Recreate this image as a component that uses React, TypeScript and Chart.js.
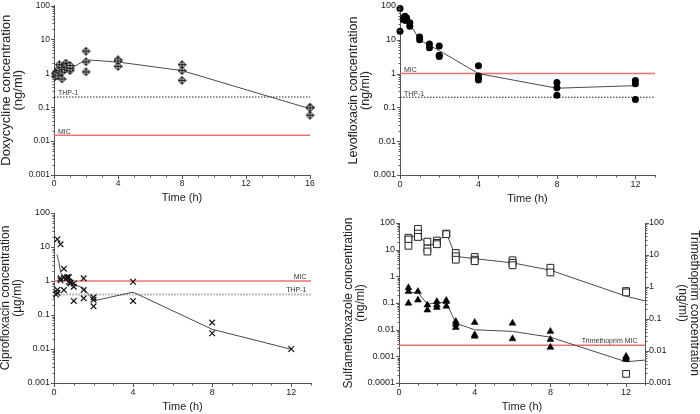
import React, { useEffect, useRef } from 'react';
import { Chart, registerables } from 'chart.js';

Chart.register(...registerables);

const FONT = "'Liberation Sans', Arial, Helvetica, sans-serif";

// ---------- axis ticks ----------
const decadeValues5 = [0.001, 0.01, 0.1, 1, 10, 100];
const decadeLabels5 = ['0.001', '0.01', '0.1', '1', '10', '100'];
const decadeValues6 = [0.0001, 0.001, 0.01, 0.1, 1, 10, 100];
const decadeLabels6 = ['0.0001', '0.001', '0.01', '0.1', '1', '10', '100'];
const timeTicks16 = [0, 4, 8, 12, 16];
const timeTicks13 = [0, 4, 8, 12];

// ---------- Doxycycline ----------
const doxyTime = [0.08, 0.08, 0.17, 0.17, 0.25, 0.25, 0.25, 0.33, 0.33, 0.5, 0.5, 0.5, 0.67, 0.67, 0.75, 0.75, 0.83, 1, 1, 1, 2, 2, 2, 4, 4, 4, 8, 8, 8, 16, 16, 16];
const doxyConc = [0.8, 1.0, 0.9, 1.1, 1.2, 1.3, 0.85, 1.2, 1.8, 1.1, 0.68, 1.5, 1.3, 1.8, 2.0, 1.6, 1.5, 1.2, 1.4, 1.7, 4.5, 2.2, 1.1, 2.5, 2.3, 1.6, 1.8, 1.2, 0.62, 0.1, 0.095, 0.058];
const doxyFitTime = [0, 0.5, 1, 2, 4, 8, 16];
const doxyFitConc = [0.85, 1.05, 1.35, 2.5, 2.15, 1.2, 0.09];
const doxyMIC = 0.015;
const doxyTHP1 = 0.2;

// ---------- Levofloxacin ----------
const levoTime = [0, 0, 0.17, 0.17, 0.25, 0.25, 0.33, 0.33, 0.5, 0.5, 1, 1, 1.5, 1.5, 2, 2, 2, 4, 4, 4, 4, 8, 8, 8, 12, 12, 12];
const levoConc = [85, 18, 45, 40, 50, 38, 45, 38, 32, 25, 12, 10, 7.5, 5.8, 6.5, 3.5, 3.2, 1.7, 0.85, 0.75, 0.65, 0.55, 0.38, 0.23, 0.62, 0.5, 0.17];
const levoFitTime = [0.1, 0.25, 0.5, 1, 1.5, 2, 4, 8, 12];
const levoFitConc = [55, 42, 30, 10, 6.8, 4.8, 1.0, 0.37, 0.44];
const levoMIC = 1;
const levoTHP1 = 0.2;

// ---------- Ciprofloxacin ----------
const ciproTime = [0.17, 0.33, 0.17, 0.17, 0.1, 0.33, 0.33, 0.5, 0.5, 0.5, 0.67, 0.67, 0.75, 0.75, 0.83, 0.83, 1, 1, 1, 1.5, 1.5, 1.5, 2, 2, 2, 4, 4, 8, 8, 12];
const ciproConc = [17, 12, 0.55, 0.45, 0.4, 1.2, 1.05, 2.3, 1.25, 0.54, 1.3, 1.2, 1.3, 0.95, 0.9, 0.85, 0.85, 0.68, 0.26, 1.2, 0.54, 0.31, 0.33, 0.28, 0.18, 0.95, 0.26, 0.06, 0.029, 0.01];
const ciproFitTime = [0.15, 0.25, 0.33, 0.5, 0.75, 1, 1.5, 2, 4, 8, 12];
const ciproFitConc = [6, 3.5, 1.8, 1.3, 1.0, 0.8, 0.62, 0.26, 0.47, 0.038, 0.0098];
const ciproMIC = 1;
const ciproTHP1 = 0.4;

// ---------- Sulfamethoxazole (left axis) ----------
const smxTime = [0.5, 0.5, 0.5, 1, 1, 1, 1.5, 1.5, 1.5, 2, 2, 2, 2.5, 2.5, 3, 3, 3, 4, 4, 4, 6, 6, 6, 8, 8, 12, 12, 12];
const smxConc = [28, 24, 14, 60, 40, 30, 20, 11, 8.5, 22, 18, 16, 40, 38, 7.5, 5.6, 4.2, 5.3, 4.2, 3.7, 4, 3.2, 2.6, 2.1, 1.4, 0.28, 0.25, 0.00022];
const smxFitTime = [0.5, 1, 1.5, 2, 2.5, 3, 4, 6, 8, 12, 13];
const smxFitConc = [26, 40, 14.5, 17, 42, 5.6, 4.6, 3.2, 1.7, 0.18, 0.12];

// ---------- Trimethoprim (right axis) ----------
const tmpTime = [0.5, 0.5, 0.5, 1, 1, 1.5, 1.5, 2, 2, 2, 2.5, 2.5, 2.5, 3, 3, 3, 4, 4, 4, 6, 6, 8, 8, 8, 12, 12, 12];
const tmpConc = [0.95, 0.72, 0.31, 0.72, 0.39, 0.275, 0.19, 0.35, 0.275, 0.23, 0.38, 0.35, 0.25, 0.084, 0.069, 0.054, 0.078, 0.032, 0.029, 0.074, 0.024, 0.041, 0.023, 0.013, 0.0068, 0.006, 0.0054];
const tmpFitTime = [0.5, 1, 1.5, 2, 2.5, 3, 4, 6, 8, 12, 13];
const tmpFitConc = [0.67, 0.67, 0.29, 0.32, 0.33, 0.074, 0.046, 0.041, 0.027, 0.0046, 0.0052];
const tmpMIC = 0.015;

// ---------- helpers ----------
const zip = (xs: number[], ys: number[]) => xs.map((x, i) => ({ x, y: ys[i] }));
const hline = (v: number, xMax: number) => [{ x: 0, y: v }, { x: xMax, y: v }];

const RED = '#ef7272';
const FIT = '#4a4a4a';

function makeDiamond(): HTMLCanvasElement {
  const c = document.createElement('canvas');
  c.width = 9;
  c.height = 9;
  const g = c.getContext('2d')!;
  g.beginPath();
  g.moveTo(4.5, 0.5);
  g.lineTo(8.5, 4.5);
  g.lineTo(4.5, 8.5);
  g.lineTo(0.5, 4.5);
  g.closePath();
  g.fillStyle = '#bcbcbc';
  g.fill();
  g.strokeStyle = '#1a1a1a';
  g.lineWidth = 1;
  g.stroke();
  g.beginPath();
  g.moveTo(4.5, 1);
  g.lineTo(4.5, 8);
  g.moveTo(1, 4.5);
  g.lineTo(8, 4.5);
  g.stroke();
  return c;
}

type RefLabel = { text: string; value: number; axis: string; align: 'left' | 'right'; dx: number; dy: number; size: number; bold?: boolean };

type PanelSpec = {
  left: number; top: number; w: number; h: number;
  padTop: number; padRight: number; yWidth: number; xHeight: number; y2Width?: number;
  xMax: number; xTicks: number[]; xTitlePad: number;
  yMin: number; yMax: number; yVals: number[]; yLabels: string[];
  yTitle: string[]; yTitleSize: number; yTitleLH: number; tickSize: number;
  y2?: { min: number; max: number; vals: number[]; labels: string[]; title: string[] };
  datasets: () => any[];
  labels: RefLabel[];
};

function axisTicksPlugin(xMax: number) {
  return {
    id: 'axisTicks',
    afterDraw(chart: any) {
      const ctx = chart.ctx;
      ctx.save();
      ctx.strokeStyle = '#555';
      ctx.lineWidth = 1;
      ctx.beginPath();
      for (const id of Object.keys(chart.scales)) {
        const s = chart.scales[id];
        const marks: [number, boolean][] = [];
        if (s.type === 'logarithmic') {
          const e0 = Math.round(Math.log10(s.min));
          const e1 = Math.round(Math.log10(s.max));
          for (let e = e0; e < e1; e++) {
            for (let k = 1; k <= 9; k++) marks.push([k * Math.pow(10, e), k === 1]);
          }
          marks.push([Math.pow(10, e1), true]);
        } else {
          for (let v = 0; v <= xMax; v += 1) marks.push([v, v % 4 === 0]);
        }
        for (const [v, major] of marks) {
          const len = major ? 3.5 : 2;
          const p = Math.round(s.getPixelForValue(v)) + 0.5;
          if (s.isHorizontal()) {
            const y0 = Math.round(s.top) + 0.5;
            ctx.moveTo(p, y0);
            ctx.lineTo(p, y0 + len);
          } else if (s.position === 'left') {
            const x0 = Math.round(s.right) + 0.5;
            ctx.moveTo(x0, p);
            ctx.lineTo(x0 - len, p);
          } else {
            const x0 = Math.round(s.left) + 0.5;
            ctx.moveTo(x0, p);
            ctx.lineTo(x0 + len, p);
          }
        }
      }
      ctx.stroke();
      ctx.restore();
    },
  };
}

function refLabelPlugin(items: RefLabel[]) {
  return {
    id: 'refLabels',
    afterDatasetsDraw(chart: any) {
      const ctx = chart.ctx;
      const ca = chart.chartArea;
      ctx.save();
      for (const it of items) {
        const y = chart.scales[it.axis].getPixelForValue(it.value);
        ctx.font = `${it.bold ? 'bold ' : ''}${it.size}px ${FONT}`;
        ctx.fillStyle = '#333';
        ctx.textBaseline = 'alphabetic';
        ctx.textAlign = it.align;
        const x = it.align === 'left' ? ca.left + it.dx : ca.right - it.dx;
        ctx.fillText(it.text, x, y - it.dy);
      }
      ctx.restore();
    },
  };
}

function yScale(pos: 'left' | 'right', min: number, max: number, vals: number[], labels: string[], title: string[], p: PanelSpec, width: number) {
  return {
    type: 'logarithmic',
    position: pos,
    min,
    max,
    afterBuildTicks: (s: any) => { s.ticks = vals.map((v) => ({ value: v, major: true })); },
    ticks: {
      font: { size: p.tickSize, family: FONT },
      color: '#222',
      padding: 0,
      autoSkip: false,
      callback: (_v: any, i: number) => labels[i],
    },
    grid: { display: false, drawTicks: true, tickLength: 4 },
    border: { display: true, color: '#555', width: 1 },
    title: {
      display: true,
      text: title,
      color: '#222',
      font: { size: p.yTitleSize, family: FONT, lineHeight: p.yTitleLH },
      padding: { top: 0, bottom: 0 },
    },
    afterFit: (s: any) => { s.width = width; },
  };
}

function buildConfig(p: PanelSpec): any {
  const scales: any = {
    x: {
      type: 'linear',
      position: 'bottom',
      min: 0,
      max: p.xMax,
      afterBuildTicks: (s: any) => { s.ticks = p.xTicks.map((v) => ({ value: v })); },
      ticks: {
        font: { size: p.tickSize, family: FONT },
        color: '#222',
        padding: 0,
        autoSkip: false,
        maxRotation: 0,
        callback: (v: any) => String(v),
      },
      grid: { display: false, drawTicks: true, tickLength: 4 },
      border: { display: true, color: '#555', width: 1 },
      title: {
        display: true,
        text: 'Time (h)',
        color: '#222',
        font: { size: 11, family: FONT, lineHeight: 1.2 },
        padding: { top: 0, bottom: p.xTitlePad },
      },
      afterFit: (s: any) => { s.height = p.xHeight; },
    },
    y: yScale('left', p.yMin, p.yMax, p.yVals, p.yLabels, p.yTitle, p, p.yWidth),
  };
  if (p.y2) {
    scales.y2 = yScale('right', p.y2.min, p.y2.max, p.y2.vals, p.y2.labels, p.y2.title, p, p.y2Width || 55);
  }
  return {
    type: 'scatter',
    data: { datasets: p.datasets() },
    options: {
      responsive: false,
      animation: false,
      devicePixelRatio: 1,
      layout: { padding: { top: p.padTop, right: p.padRight, left: 0, bottom: 0 } },
      plugins: { legend: { display: false }, tooltip: { enabled: false } },
      scales,
    },
    plugins: [axisTicksPlugin(p.xMax), refLabelPlugin(p.labels)],
  };
}

const fitLine = (data: any[], yAxisID = 'y') => ({
  data, yAxisID, showLine: true, borderColor: FIT, borderWidth: 1, pointRadius: 0, clip: false, tension: 0,
});
const refLine = (data: any[], color: string, width: number, dash: number[], yAxisID = 'y') => ({
  data, yAxisID, showLine: true, borderColor: color, borderWidth: width, borderDash: dash, pointRadius: 0, clip: false,
});

const panels: PanelSpec[] = [
  {
    left: 0, top: 0, w: 350, h: 207,
    padTop: 5, padRight: 40, yWidth: 54, xHeight: 32,
    xMax: 16, xTicks: timeTicks16, xTitlePad: 2,
    yMin: 0.001, yMax: 100, yVals: decadeValues5, yLabels: decadeLabels5,
    yTitle: ['Doxycycline concentration', '(ng/ml)'], yTitleSize: 13, yTitleLH: 0.95, tickSize: 8.5,
    datasets: () => [
      { data: zip(doxyTime, doxyConc), pointStyle: makeDiamond(), pointRadius: 4.5, showLine: false, clip: false },
      fitLine(zip(doxyFitTime, doxyFitConc)),
      refLine(hline(doxyTHP1, 16), '#222', 1, [1.5, 1.5]),
      refLine(hline(doxyMIC, 16), RED, 1.5, []),
    ],
    labels: [
      { text: 'THP-1', value: doxyTHP1, axis: 'y', align: 'left', dx: 4, dy: 1.5, size: 7 },
      { text: 'MIC', value: doxyMIC, axis: 'y', align: 'left', dx: 4, dy: 1.5, size: 7 },
    ],
  },
  {
    left: 348, top: 0, w: 352, h: 207,
    padTop: 6, padRight: 45, yWidth: 52, xHeight: 32,
    xMax: 13, xTicks: timeTicks13, xTitlePad: 1.5,
    yMin: 0.001, yMax: 100, yVals: decadeValues5, yLabels: decadeLabels5,
    yTitle: ['Levofloxacin concentration', '(ng/ml)'], yTitleSize: 12.5, yTitleLH: 0.95, tickSize: 9,
    datasets: () => [
      { data: zip(levoTime, levoConc), pointStyle: 'circle', pointRadius: 3.5, backgroundColor: '#000', borderColor: '#000', borderWidth: 0, showLine: false, clip: false },
      fitLine(zip(levoFitTime, levoFitConc)),
      refLine(hline(levoMIC, 13), RED, 1.5, []),
      refLine(hline(levoTHP1, 13), '#222', 1, [1.5, 1.5]),
    ],
    labels: [
      { text: 'MIC', value: levoMIC, axis: 'y', align: 'left', dx: 4, dy: 1.5, size: 7 },
      { text: 'THP-1', value: levoTHP1, axis: 'y', align: 'left', dx: 4, dy: 1.5, size: 7 },
    ],
  },
  {
    left: 0, top: 207, w: 350, h: 207,
    padTop: 6, padRight: 39, yWidth: 54, xHeight: 31,
    xMax: 13, xTicks: timeTicks13, xTitlePad: 0,
    yMin: 0.001, yMax: 100, yVals: decadeValues5, yLabels: decadeLabels5,
    yTitle: ['Ciprofloxacin concentration', '(µg/ml)'], yTitleSize: 12, yTitleLH: 1,
    tickSize: 9,
    datasets: () => [
      { data: zip(ciproTime, ciproConc), pointStyle: 'crossRot', pointRadius: 4, borderColor: '#111', borderWidth: 1.2, showLine: false, clip: false },
      fitLine(zip(ciproFitTime, ciproFitConc)),
      refLine(hline(ciproMIC, 13), RED, 1.5, []),
      refLine(hline(ciproTHP1, 13), '#bdbdbd', 2, [2, 1]),
    ],
    labels: [
      { text: 'MIC', value: ciproMIC, axis: 'y', align: 'right', dx: 4.5, dy: 2, size: 7 },
      { text: 'THP-1', value: ciproTHP1, axis: 'y', align: 'right', dx: 4.5, dy: 3, size: 7 },
    ],
  },
  {
    left: 343, top: 207, w: 357, h: 207,
    padTop: 16, padRight: 0, yWidth: 56, xHeight: 31, y2Width: 55,
    xMax: 13, xTicks: timeTicks13, xTitlePad: 0,
    yMin: 0.0001, yMax: 100, yVals: decadeValues6, yLabels: decadeLabels6,
    yTitle: ['Sulfamethoxazole concentration', '(ng/ml)'], yTitleSize: 12, yTitleLH: 1, tickSize: 9,
    y2: { min: 0.001, max: 100, vals: decadeValues5, labels: decadeLabels5, title: ['Trimethoprim concentration', '(ng/ml)'] },
    datasets: () => [
      { data: zip(tmpTime, tmpConc), yAxisID: 'y2', pointStyle: 'triangle', pointRadius: 4, backgroundColor: '#000', borderColor: '#000', borderWidth: 0.5, showLine: false, clip: false },
      { data: zip(smxTime, smxConc), yAxisID: 'y', pointStyle: 'rect', pointRadius: 4.8, backgroundColor: '#fff', borderColor: '#222', borderWidth: 1, showLine: false, clip: false },
      fitLine(zip(smxFitTime, smxFitConc), 'y'),
      fitLine(zip(tmpFitTime, tmpFitConc), 'y2'),
      refLine(hline(tmpMIC, 13), RED, 1.5, [], 'y2'),
    ],
    labels: [
      { text: 'Trimethoprim MIC', value: tmpMIC, axis: 'y2', align: 'right', dx: 7.5, dy: 2, size: 7 },
    ],
  },
];

function Panel({ spec }: { spec: PanelSpec }) {
  const ref = useRef<HTMLCanvasElement>(null);
  useEffect(() => {
    const chart = new Chart(ref.current!, buildConfig(spec));
    return () => chart.destroy();
  }, [spec]);
  return (
    <canvas
      ref={ref}
      width={spec.w}
      height={spec.h}
      style={{ position: 'absolute', left: spec.left, top: spec.top, width: spec.w, height: spec.h }}
    />
  );
}

export default function App() {
  return (
    <div style={{ position: 'absolute', left: 0, top: 0, width: 700, height: 414, background: '#fff', overflow: 'hidden' }}>
      {panels.map((p, i) => (
        <Panel key={i} spec={p} />
      ))}
    </div>
  );
}
